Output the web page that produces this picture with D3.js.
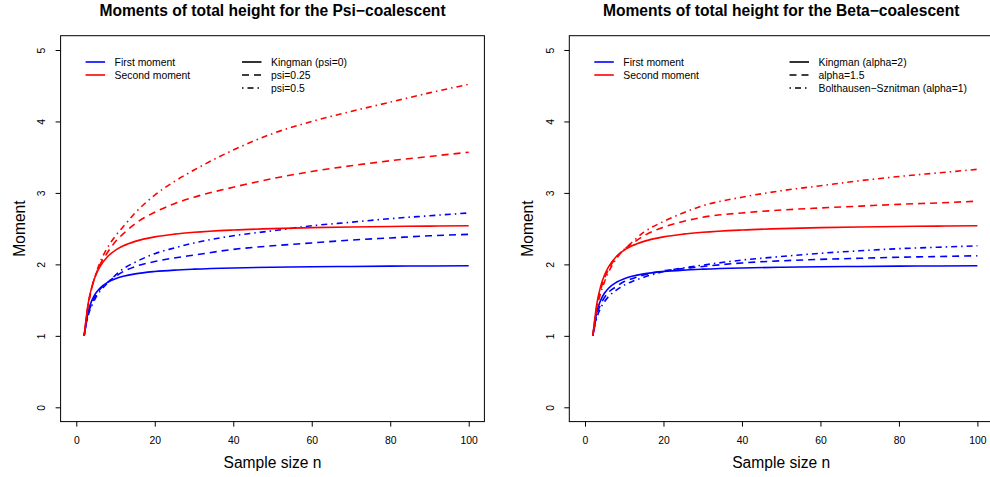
<!DOCTYPE html>
<html><head><meta charset="utf-8">
<script src="https://cdn.jsdelivr.net/npm/d3@7"></script>
<style>body{margin:0;background:#fff;} svg{display:block;}</style>
</head><body>
<svg id="c" width="990" height="477"></svg>
<script>
// ---- data ----
const sampleSizes = [2,3,4,5,6,8,10,12,15,20,25,30,40,50,60,70,80,90,100];
const kingmanFirst  = [1,1.333,1.5,1.6,1.667,1.75,1.8,1.833,1.867,1.9,1.92,1.933,1.95,1.96,1.967,1.971,1.975,1.978,1.98];
const kingmanSecond = [1,1.444,1.694,1.854,1.966,2.110,2.199,2.260,2.322,2.385,2.423,2.449,2.481,2.501,2.514,2.523,2.530,2.536,2.540];
const psi025First  = [1,1.30,1.46,1.57,1.65,1.75,1.83,1.90,1.97,2.04,2.09,2.13,2.21,2.26,2.30,2.34,2.37,2.40,2.42];
const psi05First   = [1,1.28,1.43,1.54,1.62,1.74,1.85,1.94,2.03,2.15,2.23,2.30,2.40,2.47,2.54,2.59,2.64,2.68,2.72];
const psi025Second = [1,1.42,1.68,1.86,1.99,2.17,2.32,2.43,2.57,2.73,2.85,2.94,3.08,3.20,3.30,3.38,3.45,3.51,3.57];
const psi05Second  = [1,1.42,1.68,1.87,2.02,2.24,2.40,2.53,2.72,2.97,3.16,3.32,3.60,3.83,4.00,4.14,4.27,4.40,4.52];
const alpha15First  = [1,1.29,1.44,1.54,1.61,1.69,1.76,1.80,1.85,1.91,1.94,1.97,2.02,2.05,2.07,2.085,2.10,2.11,2.12];
const bsFirst       = [1,1.25,1.39,1.48,1.55,1.64,1.71,1.76,1.82,1.90,1.95,1.99,2.06,2.11,2.155,2.19,2.22,2.24,2.26];
const alpha15Second = [1,1.41,1.65,1.81,1.93,2.10,2.21,2.29,2.40,2.52,2.60,2.66,2.72,2.76,2.79,2.815,2.84,2.86,2.885];
const bsSecond      = [1,1.375,1.60,1.76,1.89,2.08,2.21,2.31,2.45,2.60,2.72,2.82,2.94,3.03,3.10,3.17,3.23,3.28,3.33];
const xTicks = [0,20,40,60,80,100];
const yTicks = [0,1,2,3,4,5];
const titles = ["Moments of total height for the Psi\u2212coalescent","Moments of total height for the Beta\u2212coalescent"];
const momentLabels = ["First moment","Second moment"];
const psiLabels = ["Kingman (psi=0)","psi=0.25","psi=0.5"];
const betaLabels = ["Kingman (alpha=2)","alpha=1.5","Bolthausen\u2212Sznitman (alpha=1)"];

// ---- drawing ----
const svg = d3.select("#c");
const FONT = "'Liberation Sans', Arial, Helvetica, sans-serif";
const BLUE = "#0000ff", RED = "#ff0000";
const dashes = ["none","7,5","1.5,4,6,4"];

function panel(left, title, seriesFirst, seriesSecond, typeLabels, legendX) {
  const x = d3.scaleLinear().domain([-4,104]).range([left, left + 423.8]);
  const y = d3.scaleLinear().domain([-0.2,5.2]).range([421.6, 35.7]);
  const g = svg.append("g");
  const clipId = "clip" + Math.round(left);
  svg.append("clipPath").attr("id", clipId).append("rect")
    .attr("x", x.range()[0]).attr("y", 35.7).attr("width", 423.8).attr("height", 385.9);

  const line = d3.line().x(d => x(d[0])).y(d => y(d[1])).curve(d3.curveMonotoneX);
  const cg = g.append("g").attr("clip-path", `url(#${clipId})`);
  function draw(vals, color, dash) {
    cg.append("path").datum(sampleSizes.map((n,i) => [n, vals[i]]))
      .attr("d", line).attr("fill","none").attr("stroke", color)
      .attr("stroke-width", 1.6).attr("stroke-dasharray", dash);
  }
  seriesFirst.forEach((s,i) => draw(s, BLUE, dashes[i]));
  seriesSecond.forEach((s,i) => draw(s, RED, dashes[i]));

  // box
  g.append("rect").attr("x", x.range()[0]).attr("y", 35.7)
    .attr("width", 423.8).attr("height", 385.9)
    .attr("fill","none").attr("stroke","#000").attr("stroke-width",1);

  // x axis
  const xa = g.append("g").attr("transform","translate(0,421.6)")
    .call(d3.axisBottom(x).tickValues(xTicks).tickSize(5).tickPadding(10).tickSizeOuter(0));
  xa.select(".domain").remove();
  xa.selectAll("line").attr("stroke","#000");
  xa.selectAll("text").attr("font-family",FONT).attr("font-size","10.4px").attr("fill","#000");

  // y axis
  const ya = g.append("g").attr("transform",`translate(${x.range()[0]},0)`)
    .call(d3.axisLeft(y).tickValues(yTicks).tickSize(5).tickFormat(d3.format("d")));
  ya.select(".domain").remove();
  ya.selectAll("line").attr("stroke","#000");
  ya.selectAll("text").attr("font-family",FONT).attr("font-size","10.4px").attr("fill","#000")
    .attr("x",null).attr("dy",null)
    .attr("transform","translate(-15.5,0) rotate(-90)")
    .attr("text-anchor","middle").attr("dominant-baseline","auto");

  // titles
  const cx = x.range()[0] + 211.9;
  g.append("text").attr("x", cx).attr("y", 16).attr("text-anchor","middle")
    .attr("font-family",FONT).attr("font-weight","bold").attr("font-size","15.6px").text(title);
  g.append("text").attr("x", (x(0)+x(100))/2).attr("y", 468).attr("text-anchor","middle")
    .attr("font-family",FONT).attr("font-size","15.6px").text("Sample size n");
  g.append("text").attr("transform",`translate(${x.range()[0]-36},228.6) rotate(-90)`)
    .attr("text-anchor","middle").attr("font-family",FONT).attr("font-size","15.6px").text("Moment");

  // legends
  const l0 = x.range()[0] + 25;
  momentLabels.forEach((t,i) => {
    const yy = 62 + i*13;
    g.append("line").attr("x1", l0).attr("x2", l0+19.5).attr("y1", yy).attr("y2", yy)
      .attr("stroke", i ? RED : BLUE).attr("stroke-width",1.6);
    g.append("text").attr("x", l0+29).attr("y", yy+3.8).attr("font-family",FONT)
      .attr("font-size","10.4px").text(t);
  });
  typeLabels.forEach((t,i) => {
    const yy = 62 + i*13;
    g.append("line").attr("x1", legendX).attr("x2", legendX+19.5).attr("y1", yy).attr("y2", yy)
      .attr("stroke", "#000").attr("stroke-width",1.6).attr("stroke-dasharray", dashes[i]);
    g.append("text").attr("x", legendX+29).attr("y", yy+3.8).attr("font-family",FONT)
      .attr("font-size","10.4px").text(t);
  });
}

panel(60.6, titles[0], [kingmanFirst, psi025First, psi05First],
      [kingmanSecond, psi025Second, psi05Second], psiLabels, 242);
panel(569.3, titles[1], [kingmanFirst, alpha15First, bsFirst],
      [kingmanSecond, alpha15Second, bsSecond], betaLabels, 789.5);
</script>
</body></html>
